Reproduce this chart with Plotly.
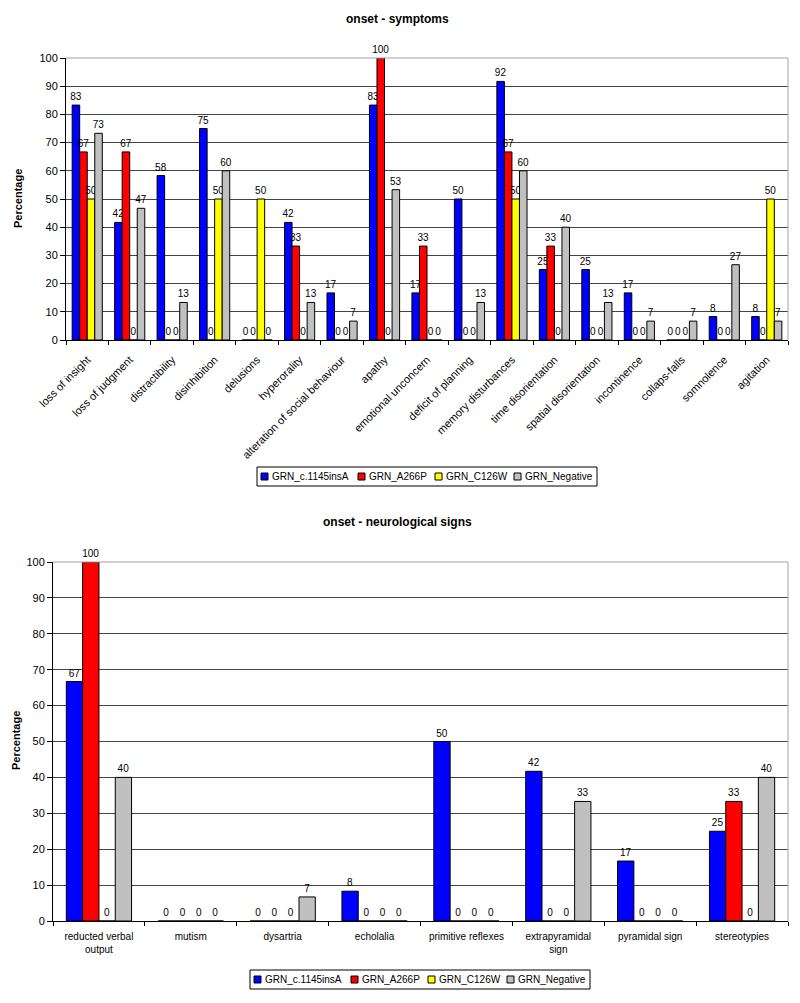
"""
Onset symptoms / neurological signs per GRN mutation group — two Excel-style
grouped bar charts stacked on one page.
"""
import plotly.graph_objects as go

# the page body keeps its default 8px margin, so the figure is shrunk by that
# much and every pixel position below is given in window coordinates
PAGE_PAD = 8
W, H = 800 - PAGE_PAD, 1003 - PAGE_PAD
FONT = "Arial, Liberation Sans, sans-serif"

SERIES = ["GRN_c.1145insA", "GRN_A266P", "GRN_C126W", "GRN_Negative"]
COLORS = ["#0000FF", "#FF0000", "#FFFF00", "#C0C0C0"]

# ---------------------------------------------------------------------------
# data — onset symptoms (percentage)
# ---------------------------------------------------------------------------
symptoms = [
    "loss of insight", "loss of judgment", "distractibility", "disinhibition",
    "delusions", "hyperorality", "alteration of social behaviour", "apathy",
    "emotional unconcern", "deficit of planning", "memory disturbances",
    "time disorientation", "spatial disorientation", "incontinence",
    "collaps-falls", "somnolence", "agitation",
]
sym_c1145insA = [83.3, 41.7, 58.3, 75.0, 0, 41.7, 16.7, 83.3, 16.7, 50.0, 91.7, 25.0, 25.0, 16.7, 0, 8.3, 8.3]
sym_A266P = [66.7, 66.7, 0, 0, 0, 33.3, 0, 100.0, 33.3, 0, 66.7, 33.3, 0, 0, 0, 0, 0]
sym_C126W = [50.0, 0, 0, 50.0, 50.0, 0, 0, 0, 0, 0, 50.0, 0, 0, 0, 0, 0, 50.0]
sym_negative = [73.3, 46.7, 13.3, 60.0, 0, 13.3, 6.7, 53.3, 0, 13.3, 60.0, 40.0, 13.3, 6.7, 6.7, 26.7, 6.7]

# ---------------------------------------------------------------------------
# data — onset neurological signs (percentage)
# ---------------------------------------------------------------------------
signs = [
    "reducted verbal<br>output", "mutism", "dysartria", "echolalia",
    "primitive reflexes", "extrapyramidal<br>sign", "pyramidal sign", "stereotypies",
]
neu_c1145insA = [66.7, 0, 0, 8.3, 50.0, 41.7, 16.7, 25.0]
neu_A266P = [100.0, 0, 0, 0, 0, 0, 0, 33.3]
neu_C126W = [0, 0, 0, 0, 0, 0, 0, 0]
neu_negative = [40.0, 0, 6.7, 0, 0, 33.3, 0, 40.0]

y_ticks = list(range(0, 101, 10))


def px_x(px):
    return (px - PAGE_PAD) / W


def px_y(px):
    return 1 - (px - PAGE_PAD) / H


fig = go.Figure()


def add_group(cats, values, xa, ya):
    for name, color, ys in zip(SERIES, COLORS, values):
        fig.add_trace(go.Bar(
            x=cats, y=ys, name=name, xaxis=xa, yaxis=ya, showlegend=False,
            marker=dict(color=color, line=dict(color="black", width=1)),
            texttemplate="%{y:.0f}", textposition="outside",
            constraintext="none", cliponaxis=False,
            textfont=dict(family=FONT, size=10, color="black"),
        ))


add_group(symptoms, [sym_c1145insA, sym_A266P, sym_C126W, sym_negative], "x", "y")
add_group(signs, [neu_c1145insA, neu_A266P, neu_C126W, neu_negative], "x2", "y2")

axis_common = dict(
    showline=True, linecolor="black", linewidth=1, ticks="outside",
    tickcolor="black", ticklen=5, tickfont=dict(family=FONT, size=10, color="black"),
    showgrid=False, zeroline=False, fixedrange=True, automargin=False,
)
yaxis_common = dict(axis_common, range=[0, 100], tickvals=y_ticks, showgrid=True,
                    gridcolor="#444444", gridwidth=1,
                    tickfont=dict(family=FONT, size=11, color="black"))

fig.update_layout(
    width=W, height=H, margin=dict(l=0, r=0, t=0, b=0),
    paper_bgcolor="white", plot_bgcolor="white",
    barmode="group", bargap=0.29, bargroupgap=0,
    font=dict(family=FONT, color="black"),
    showlegend=False,
    xaxis=dict(axis_common, domain=[px_x(66), px_x(788)], anchor="y",
               tickangle=-45, tickson="boundaries", ticklen=4,
               ticklabelstandoff=8, tickfont=dict(family=FONT, size=11, color="black")),
    yaxis=dict(yaxis_common, domain=[px_y(340), px_y(58)], anchor="x"),
    xaxis2=dict(axis_common, domain=[px_x(53), px_x(788)], anchor="y2",
                tickangle=0, tickson="boundaries", ticklen=4, ticklabelstandoff=6),
    yaxis2=dict(yaxis_common, domain=[px_y(921), px_y(562)], anchor="x2"),
)


def label(text, xpix, ypix, size, xanchor="center", angle=0):
    fig.add_annotation(text=text, xref="paper", yref="paper",
                       x=px_x(xpix), y=px_y(ypix), xanchor=xanchor, yanchor="middle",
                       showarrow=False, textangle=angle,
                       font=dict(family=FONT, size=size, color="black"))


# chart titles and y-axis titles
label("<b>onset - symptoms</b>", 397, 19, 12)
label("<b>onset - neurological signs</b>", 397, 522, 12)
label("<b>Percentage</b>", 18, 199, 11, angle=-90)
label("<b>Percentage</b>", 16, 741, 11, angle=-90)

# gray plot-area border on top and right (Excel style)
for xd, yd in [("x domain", "y domain"), ("x2 domain", "y2 domain")]:
    fig.add_shape(type="line", xref=xd, yref=yd, x0=0, x1=1, y0=1, y1=1,
                  line=dict(color="#A0A0A0", width=1), layer="above")
    fig.add_shape(type="line", xref=xd, yref=yd, x0=1, x1=1, y0=0, y1=1,
                  line=dict(color="#A0A0A0", width=1), layer="above")

# Excel-style compact legend boxes (one per chart)
entry_offsets = [4, 101, 178, 257]   # swatch x offset inside the box, px
LEG_W, LEG_H = 340, 19


def add_legend(left, top):
    fig.add_shape(type="rect", xref="paper", yref="paper",
                  x0=px_x(left), x1=px_x(left + LEG_W), y0=px_y(top + LEG_H), y1=px_y(top),
                  line=dict(color="black", width=1), fillcolor="white")
    mid = top + LEG_H / 2
    for off, name, color in zip(entry_offsets, SERIES, COLORS):
        fig.add_shape(type="rect", xref="paper", yref="paper",
                      x0=px_x(left + off), x1=px_x(left + off + 7),
                      y0=px_y(mid + 3.5), y1=px_y(mid - 3.5),
                      line=dict(color="black", width=1), fillcolor=color)
        label(name, left + off + 9, mid, 10, xanchor="left")


add_legend(257, 467)
add_legend(250, 970)

fig.write_html("out.html")
